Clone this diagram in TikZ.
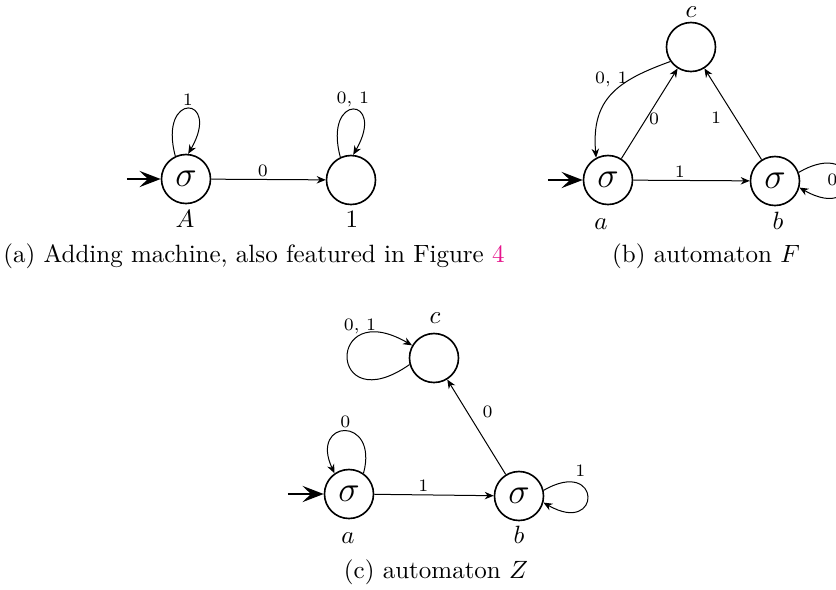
\documentclass[tikz,border=0pt]{standalone}
\usetikzlibrary{arrows.meta}
\definecolor{linkpink}{RGB}{230,20,140}
\begin{document}
\begin{tikzpicture}[x=0.4pt,y=0.4pt,
  stnode/.style={circle,draw,line width=0.65pt,minimum size=19.6pt,inner sep=0pt,font=\Large},
  trans/.style={-{Stealth[length=3.6pt,width=3pt]},line width=0.4pt},
  initarrow/.style={-{Stealth[length=8.5pt,width=6.5pt,inset=3.4pt]},line width=1pt},
  elab/.style={font=\scriptsize,inner sep=1pt},
  namelab/.style={anchor=base},
  captext/.style={anchor=base}]
\useasboundingbox (0,0) rectangle (836,-589);

% ---------- (a) ----------
\node[stnode] (A) at (186,-179) {$\sigma$};
\node[stnode] (S1) at (351,-180) {};
\node[namelab] (lA) at (185,-227) {$A$};
\node[namelab] (l1) at (352,-227) {$1$};
\coordinate (iA) at (127,-179);
\draw[initarrow] (iA) -- (A);
\draw[trans] (A) -- node[elab,above,pos=0.45]{0} (S1);
\draw[trans] (A.115) .. controls +(105:27pt) and +(60:27pt) .. node[elab,above]{1} (A.85);
\draw[trans] (S1.115) .. controls +(105:27pt) and +(60:27pt) .. node[elab,above]{0, 1} (S1.85);
\node[captext] (capA) at (254,-262) {(a) Adding machine, also featured in Figure \textcolor{linkpink}{4}};

% ---------- (b) ----------
\node[stnode] (bA) at (608,-180) {$\sigma$};
\node[stnode] (bB) at (775,-181) {$\sigma$};
\node[stnode] (bC) at (691,-47) {};
\node[namelab] (lbA) at (601,-229) {$a$};
\node[namelab] (lbB) at (778,-229) {$b$};
\node[namelab] (lbC) at (691,-17) {$c$};
\coordinate (ibA) at (548,-180);
\draw[initarrow] (ibA) -- (bA);
\draw[trans] (bA) -- node[elab,right,pos=0.44]{0} (bC);
\draw[trans] (bC.215) .. controls +(200:22pt) and +(95:24pt) .. node[elab,left,pos=0.3]{0, 1} (bA.118);
\draw[trans] (bB) -- node[elab,left=4.5pt,pos=0.46]{1} (bC);
\draw[trans] (bA) -- node[elab,above,pos=0.4]{1} (bB);
\draw[trans] (bB.20) .. controls +(30:30pt) and +(-30:30pt) .. node[elab,left=3pt]{0} (bB.-15);
\node[captext] (capB) at (706,-262) {(b) automaton $F$};

% ---------- (c) ----------
\node[stnode] (cA) at (349,-494) {$\sigma$};
\node[stnode] (cB) at (519,-496) {$\sigma$};
\node[stnode] (cC) at (434,-358) {};
\node[namelab] (lcA) at (348,-543) {$a$};
\node[namelab] (lcB) at (519,-543) {$b$};
\node[namelab] (lcC) at (435,-323) {$c$};
\coordinate (icA) at (288,-494);
\draw[initarrow] (icA) -- (cA);
\draw[trans] (cA) -- node[elab,above,pos=0.41]{1} (cB);
\draw[trans] (cB) -- node[elab,right=5pt,pos=0.66]{0} (cC);
\draw[trans] (cA.55) .. controls +(75:24pt) and +(115:24pt) .. node[elab,above]{0} (cA.125);
\draw[trans] (cB.13) .. controls +(30:27pt) and +(-30:27pt) .. node[elab,above=2pt,pos=0.3]{1} (cB.-15);
\draw[trans] (cC.195) .. controls +(215:40pt) and +(150:40pt) .. node[elab,above,pos=0.72]{0, 1} (cC.150);
\node[captext] (capC) at (436,-578) {(c) automaton $Z$};
\end{tikzpicture}
\end{document}
